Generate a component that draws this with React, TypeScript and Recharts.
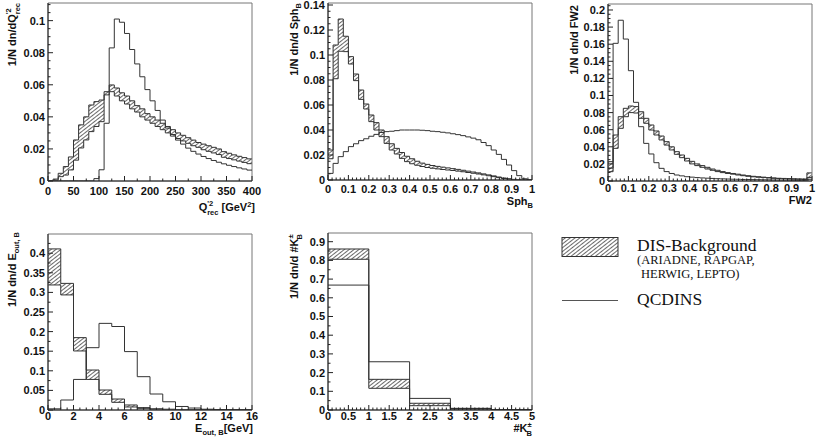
import React from 'react';
import { ComposedChart, Line, Area, XAxis, YAxis, ReferenceArea } from 'recharts';

// Q'^2_rec [GeV^2], 10 GeV^2 bins from 0 to 400
const q2BinWidth = 10;
const q2Qcdins = [0, 0, 0, 0, 0, 0, 0, 0, 0, 0.0015, 0.007, 0.036, 0.083, 0.101, 0.099, 0.092, 0.082, 0.073, 0.065, 0.057, 0.05, 0.044, 0.038, 0.033, 0.029, 0.0255, 0.023, 0.0205, 0.0185, 0.0168, 0.0153, 0.014, 0.0128, 0.0117, 0.0107, 0.0098, 0.009, 0.0082, 0.0075, 0.0068];
const q2DisLow = [0, 0.0005, 0.0027, 0.0037, 0.0069, 0.013, 0.0206, 0.0256, 0.0308, 0.034, 0.037, 0.0537, 0.0557, 0.053, 0.05, 0.048, 0.045, 0.043, 0.04, 0.038, 0.036, 0.034, 0.032, 0.03, 0.028, 0.0265, 0.025, 0.0235, 0.022, 0.021, 0.0195, 0.0185, 0.0175, 0.0165, 0.0148, 0.014, 0.0132, 0.0124, 0.0116, 0.0108];
const q2DisHigh = [0, 0.0012, 0.0048, 0.009, 0.015, 0.0256, 0.035, 0.04, 0.0474, 0.0495, 0.0505, 0.0557, 0.0599, 0.058, 0.055, 0.053, 0.05, 0.047, 0.045, 0.042, 0.04, 0.038, 0.036, 0.034, 0.032, 0.03, 0.0285, 0.027, 0.0255, 0.024, 0.023, 0.022, 0.021, 0.02, 0.0183, 0.0173, 0.0163, 0.0154, 0.0146, 0.0138];
const q2XTicks = [0, 50, 100, 150, 200, 250, 300, 350, 400];
const q2YTicks = [0, 0.02, 0.04, 0.06, 0.08, 0.1];

// Sph_B, bins of 0.025 from 0 to 1
const sphBinWidth = 0.025;
const sphQcdins = [0.0053, 0.0133, 0.0187, 0.0227, 0.0267, 0.029, 0.0315, 0.033, 0.035, 0.0365, 0.038, 0.0387, 0.039, 0.0395, 0.04, 0.04, 0.04, 0.04, 0.0398, 0.0395, 0.039, 0.0387, 0.0382, 0.0377, 0.037, 0.0363, 0.0355, 0.0345, 0.0335, 0.0322, 0.03, 0.0275, 0.024, 0.0205, 0.0165, 0.012, 0.0075, 0.0035, 0.001, 0.0002];
const sphDisLow = [0.017, 0.081, 0.103, 0.1027, 0.0928, 0.0795, 0.0645, 0.0568, 0.0467, 0.04, 0.0347, 0.0293, 0.024, 0.0208, 0.0173, 0.0147, 0.013, 0.0118, 0.0108, 0.01, 0.0094, 0.0089, 0.0084, 0.008, 0.0076, 0.0071, 0.0066, 0.006, 0.0054, 0.0048, 0.0041, 0.0034, 0.0027, 0.0019, 0.0012, 0.0007, 0.0003, 0.0001, 0, 0];
const sphDisHigh = [0.024, 0.108, 0.1288, 0.115, 0.0987, 0.0848, 0.072, 0.0608, 0.052, 0.0459, 0.04, 0.0347, 0.029, 0.0253, 0.022, 0.019, 0.017, 0.015, 0.0135, 0.0125, 0.0116, 0.0109, 0.0103, 0.0097, 0.0091, 0.0085, 0.0078, 0.0071, 0.0064, 0.0057, 0.0049, 0.0041, 0.0033, 0.0024, 0.0016, 0.001, 0.0005, 0.0002, 0.0001, 0];
const sphXTicks = [0, 0.1, 0.2, 0.3, 0.4, 0.5, 0.6, 0.7, 0.8, 0.9, 1];
const sphYTicks = [0, 0.02, 0.04, 0.06, 0.08, 0.1, 0.12, 0.14];

// FW2, bins of 0.025 from 0 to 1
const fw2BinWidth = 0.025;
const fw2Qcdins = [0.015, 0.161, 0.188, 0.166, 0.129, 0.092, 0.0635, 0.044, 0.0316, 0.0214, 0.0148, 0.011, 0.0088, 0.007, 0.006, 0.005, 0.0045, 0.004, 0.0036, 0.0033, 0.003, 0.0027, 0.0025, 0.0023, 0.0021, 0.002, 0.0018, 0.0017, 0.0016, 0.0015, 0.0014, 0.0013, 0.0012, 0.0011, 0.001, 0.001, 0.0009, 0.0008, 0.0008, 0.002];
const fw2DisLow = [0.0109, 0.0382, 0.0616, 0.0752, 0.08, 0.0795, 0.0733, 0.0675, 0.0596, 0.0538, 0.048, 0.042, 0.0363, 0.0312, 0.0273, 0.0234, 0.02, 0.018, 0.016, 0.014, 0.0125, 0.011, 0.0098, 0.0088, 0.008, 0.007, 0.0062, 0.0055, 0.0049, 0.0044, 0.004, 0.0036, 0.0032, 0.0028, 0.0025, 0.0023, 0.0021, 0.002, 0.0018, 0.004];
const fw2DisHigh = [0.0226, 0.0538, 0.0752, 0.085, 0.0877, 0.087, 0.081, 0.0733, 0.0655, 0.0585, 0.0526, 0.046, 0.04, 0.0343, 0.0304, 0.0265, 0.023, 0.02, 0.018, 0.016, 0.014, 0.0125, 0.011, 0.0098, 0.0088, 0.008, 0.007, 0.0062, 0.0055, 0.005, 0.0045, 0.004, 0.0036, 0.0032, 0.003, 0.0028, 0.0026, 0.0024, 0.0023, 0.0095];
const fw2XTicks = [0, 0.1, 0.2, 0.3, 0.4, 0.5, 0.6, 0.7, 0.8, 0.9, 1];
const fw2YTicks = [0, 0.02, 0.04, 0.06, 0.08, 0.1, 0.12, 0.14, 0.16, 0.18, 0.2];

// E_out,B [GeV], 1 GeV bins from 0 to 16
const eoutBinWidth = 1;
const eoutQcdins = [0.003, 0.0255, 0.078, 0.159, 0.221, 0.213, 0.149, 0.085, 0.0408, 0.021, 0.009, 0.005, 0.002, 0.001, 0.0005, 0.0003];
const eoutDisLow = [0.319, 0.2936, 0.1506, 0.078, 0.04, 0.0196, 0.0077, 0.0043, 0.002, 0.001, 0.0005, 0.0003, 0.0002, 0.0001, 0, 0];
const eoutDisHigh = [0.411, 0.323, 0.1846, 0.102, 0.051, 0.028, 0.0128, 0.006, 0.003, 0.002, 0.001, 0.0006, 0.0004, 0.0002, 0.0001, 0.0001];
const eoutXTicks = [0, 2, 4, 6, 8, 10, 12, 14, 16];
const eoutYTicks = [0, 0.05, 0.1, 0.15, 0.2, 0.25, 0.3, 0.35, 0.4];

// number of charged kaons, unit bins from 0 to 5
const kaonBinWidth = 1;
const kaonQcdins = [0.668, 0.258, 0.062, 0.009, 0.002];
const kaonDisLow = [0.806, 0.116, 0.023, 0.004, 0.0005];
const kaonDisHigh = [0.861, 0.164, 0.036, 0.008, 0.0015];
const kaonXTicks = [0, 0.5, 1, 1.5, 2, 2.5, 3, 3.5, 4, 4.5, 5];
const kaonYTicks = [0, 0.1, 0.2, 0.3, 0.4, 0.5, 0.6, 0.7, 0.8, 0.9];

const SANS = '"Liberation Sans", Arial, Helvetica, sans-serif';
const SERIF = '"Liberation Serif", "Times New Roman", serif';
const INK = '#222';
const ML = 45;
const MT = 6;
const MR = 10;
const MB = 30;

const round = (v: number) => Math.round(v * 1e6) / 1e6;

// step histogram rows: one row per bin low edge, plus the closing upper edge
function histRows(binWidth: number, qcd: number[], lo: number[], hi: number[]) {
  const rows = qcd.map((q, i) => ({ x: round(i * binWidth), q, band: [lo[i], hi[i]] }));
  const n = qcd.length;
  rows.push({ x: round(n * binWidth), q: qcd[n - 1], band: [lo[n - 1], hi[n - 1]] });
  return rows;
}

function withMinor(majors: number[], div: number, max: number) {
  const step = (majors[1] - majors[0]) / div;
  const out: number[] = [];
  for (let i = 0; round(majors[0] + i * step) <= max + 1e-9; i++) out.push(round(majors[0] + i * step));
  return out;
}

const isMajor = (v: number, step: number) => Math.abs(v / step - Math.round(v / step)) < 1e-6;
const fmt = (v: number) => String(+v.toFixed(4));

type PanelProps = {
  left: number;
  top: number;
  w: number;
  h: number;
  binWidth: number;
  xMax: number;
  yMax: number;
  qcd: number[];
  lo: number[];
  hi: number[];
  xTicks: number[];
  xDiv: number;
  yTicks: number[];
  yDiv: number;
  labelGap: number;
};

function Panel(p: PanelProps) {
  const rows = histRows(p.binWidth, p.qcd, p.lo, p.hi);
  const bottom = MT + p.h;
  const xStep = p.xTicks[1] - p.xTicks[0];
  const yStep = p.yTicks[1] - p.yTicks[0];
  const xs = withMinor(p.xTicks, p.xDiv, p.xMax);
  const ys = withMinor(p.yTicks, p.yDiv, p.yMax);

  const xTick = (t: any) => {
    const v = t.payload.value;
    const major = isMajor(v, xStep);
    return (
      <g>
        <line x1={t.x} x2={t.x} y1={bottom} y2={bottom - (major ? 5 : 2.5)} stroke={INK} strokeWidth={1} />
        {major && (
          <text x={t.x} y={bottom + p.labelGap} textAnchor="middle" fontFamily={SANS} fontWeight="bold" fontSize={11} fill="#111">
            {fmt(v)}
          </text>
        )}
      </g>
    );
  };

  const yTick = (t: any) => {
    const v = t.payload.value;
    const major = isMajor(v, yStep);
    return (
      <g>
        <line x1={ML} x2={ML + (major ? 5 : 2.5)} y1={t.y} y2={t.y} stroke={INK} strokeWidth={1} />
        {major && (
          <text x={ML - 3} y={t.y + 4} textAnchor="end" fontFamily={SANS} fontWeight="bold" fontSize={11} fill="#111">
            {fmt(v)}
          </text>
        )}
      </g>
    );
  };

  return (
    <div style={{ position: 'absolute', left: p.left - ML, top: p.top - MT }}>
      <ComposedChart
        width={ML + p.w + MR}
        height={MT + p.h + MB}
        data={rows}
        margin={{ top: MT, right: MR, left: 0, bottom: 0 }}
      >
        <XAxis
          type="number"
          dataKey="x"
          domain={[0, p.xMax]}
          allowDataOverflow
          ticks={xs}
          interval={0}
          height={MB}
          tickLine={false}
          axisLine={{ stroke: INK }}
          tick={xTick}
        />
        <YAxis
          type="number"
          domain={[0, p.yMax]}
          allowDataOverflow
          ticks={ys}
          interval={0}
          width={ML}
          tickLine={false}
          axisLine={{ stroke: INK }}
          tick={yTick}
        />
        <Area
          type="stepAfter"
          dataKey="band"
          fill="url(#dis-hatch)"
          fillOpacity={1}
          stroke="#333"
          strokeWidth={1}
          dot={false}
          activeDot={false}
          isAnimationActive={false}
        />
        <Line
          type="stepAfter"
          dataKey="q"
          stroke="#333"
          strokeWidth={1}
          dot={false}
          activeDot={false}
          isAnimationActive={false}
        />
        <ReferenceArea x1={0} x2={p.xMax} y1={0} y2={p.yMax} fill="none" stroke="#777" strokeWidth={1} />
      </ComposedChart>
    </div>
  );
}

const SUB = 7.5;

function Titles() {
  const t = { fontFamily: SANS, fontWeight: 'bold' as const, fontSize: 11, fill: '#111' };
  return (
    <svg width={817} height={443} style={{ position: 'absolute', left: 0, top: 0, pointerEvents: 'none' }}>
      <defs>
        <pattern id="dis-hatch" patternUnits="userSpaceOnUse" width={10} height={3} patternTransform="rotate(-38)">
          <rect width={10} height={3} fill="#fff" />
          <line x1={0} y1={1.5} x2={10} y2={1.5} stroke="#444" strokeWidth={0.8} />
        </pattern>
      </defs>

      {/* y axis titles */}
      <text {...t} transform="translate(16,3) rotate(-90)" textAnchor="end">
        1/N dn/dQ<tspan dy={-5} fontSize={SUB}>'2</tspan>
        <tspan dx={-6} dy={9} fontSize={SUB}>rec</tspan>
      </text>
      <text {...t} transform="translate(298,3) rotate(-90)" textAnchor="end">
        1/N dn/d Sph<tspan dy={3} fontSize={SUB}>B</tspan>
      </text>
      <text {...t} transform="translate(578,5) rotate(-90)" textAnchor="end">
        1/N dn/d FW2
      </text>
      <text {...t} transform="translate(16,232) rotate(-90)" textAnchor="end">
        1/N dn/d E<tspan dy={3} fontSize={SUB}>out, B</tspan>
      </text>
      <text {...t} transform="translate(298,234) rotate(-90)" textAnchor="end">
        1/N dn/d #K<tspan dy={-5} fontSize={SUB}>±</tspan>
        <tspan dx={-5} dy={9} fontSize={SUB}>B</tspan>
      </text>

      {/* x axis titles */}
      <text {...t} x={255} y={210.5} textAnchor="end">
        Q<tspan dy={-5} fontSize={SUB}>'2</tspan>
        <tspan dx={-6} dy={9} fontSize={SUB}>rec</tspan>
        <tspan dy={-4}> [GeV</tspan>
        <tspan dy={-4} fontSize={SUB}>2</tspan>
        <tspan dy={4}>]</tspan>
      </text>
      <text {...t} x={533} y={205} textAnchor="end">
        Sph<tspan dy={3} fontSize={SUB}>B</tspan>
      </text>
      <text {...t} x={812} y={204} textAnchor="end">
        FW2
      </text>
      <text {...t} x={253} y={432} textAnchor="end">
        E<tspan dy={3} fontSize={SUB}>out, B</tspan>
        <tspan dy={-3}>[GeV]</tspan>
      </text>
      <text {...t} x={532} y={432} textAnchor="end">
        #K<tspan dy={-5} fontSize={SUB}>±</tspan>
        <tspan dx={-5} dy={9} fontSize={SUB}>B</tspan>
      </text>

      {/* legend */}
      <rect x={562} y={237.5} width={56} height={19} fill="url(#dis-hatch)" stroke="#333" strokeWidth={1} />
      <text x={637} y={250.5} fontFamily={SERIF} fontSize={17.5} fill="#111">DIS-Background</text>
      <text x={637} y={264} fontFamily={SERIF} fontSize={12.5} fill="#111">(ARIADNE, RAPGAP,</text>
      <text x={641} y={278} fontFamily={SERIF} fontSize={12.5} fill="#111">HERWIG, LEPTO)</text>
      <line x1={562} x2={618} y1={300.5} y2={300.5} stroke="#555" strokeWidth={1} />
      <text x={637} y={305} fontFamily={SERIF} fontSize={17.5} fill="#111">QCDINS</text>
    </svg>
  );
}

export default function App() {
  return (
    <div style={{ position: 'absolute', left: 0, top: 0, width: 817, height: 443, background: '#fff', overflow: 'hidden' }}>
      <Panel left={48} top={3} w={204} h={178} binWidth={q2BinWidth} xMax={400} yMax={0.111}
        qcd={q2Qcdins} lo={q2DisLow} hi={q2DisHigh} xTicks={q2XTicks} xDiv={2} yTicks={q2YTicks} yDiv={4} labelGap={14} />
      <Panel left={328} top={3} w={204} h={177} binWidth={sphBinWidth} xMax={1} yMax={0.1416}
        qcd={sphQcdins} lo={sphDisLow} hi={sphDisHigh} xTicks={sphXTicks} xDiv={5} yTicks={sphYTicks} yDiv={4} labelGap={13} />
      <Panel left={608} top={4} w={204} h={177} binWidth={fw2BinWidth} xMax={1} yMax={0.207}
        qcd={fw2Qcdins} lo={fw2DisLow} hi={fw2DisHigh} xTicks={fw2XTicks} xDiv={5} yTicks={fw2YTicks} yDiv={4} labelGap={10.5} />
      <Panel left={48} top={234} w={204} h={176} binWidth={eoutBinWidth} xMax={16} yMax={0.449}
        qcd={eoutQcdins} lo={eoutDisLow} hi={eoutDisHigh} xTicks={eoutXTicks} xDiv={4} yTicks={eoutYTicks} yDiv={2} labelGap={9.5} />
      <Panel left={328} top={233} w={204} h={177} binWidth={kaonBinWidth} xMax={5} yMax={0.9465}
        qcd={kaonQcdins} lo={kaonDisLow} hi={kaonDisHigh} xTicks={kaonXTicks} xDiv={5} yTicks={kaonYTicks} yDiv={2} labelGap={9.5} />
      <Titles />
    </div>
  );
}
